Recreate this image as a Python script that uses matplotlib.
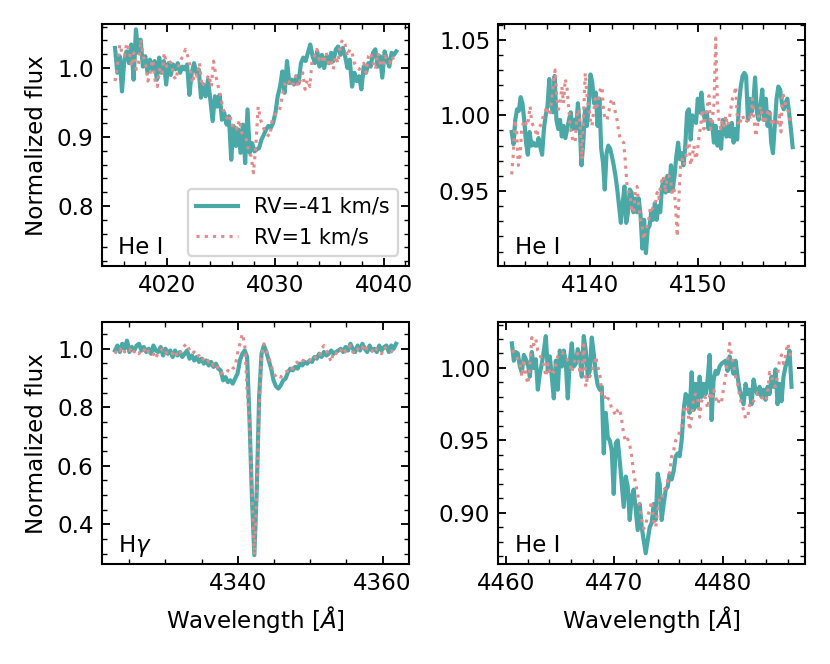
import numpy as np
import matplotlib
matplotlib.use("Agg")
import matplotlib.pyplot as plt
from matplotlib.ticker import MultipleLocator

# ---------------- data ----------------
# He I 4026 panel
hei4026_range_a = [4015.19, 4041.16]
hei4026_flux_a = [1.029, 0.993, 1.017, 0.966, 1.012, 1.024, 1.007, 1.034, 0.983, 1.056,
                  1.022, 1.041, 1.002, 1.017, 0.993, 1.012, 0.998, 1.010, 0.983, 1.015,
                  0.993, 1.010, 0.976, 1.007, 0.990, 1.005, 0.998, 1.007, 0.993, 1.002,
                  0.998, 1.005, 0.961, 0.993, 1.007, 0.993, 0.998, 0.957, 0.976, 0.959,
                  0.983, 0.954, 0.923, 0.959, 0.944, 0.961, 0.925, 0.935, 0.918, 0.930,
                  0.867, 0.916, 0.887, 0.911, 0.877, 0.918, 0.862, 0.940, 0.877, 0.891,
                  0.879, 0.882, 0.884, 0.896, 0.903, 0.911, 0.916, 0.913, 0.920, 0.935,
                  0.959, 0.973, 0.995, 0.964, 1.010, 0.978, 0.983, 0.976, 0.988, 0.978,
                  1.007, 1.015, 1.010, 1.022, 1.034, 1.017, 1.007, 1.024, 1.002, 1.019,
                  1.000, 1.017, 1.007, 1.022, 1.010, 1.027, 1.031, 1.019, 1.029, 1.017,
                  1.000, 1.012, 0.973, 0.993, 0.981, 0.988, 0.969, 1.002, 0.993, 1.007,
                  1.002, 1.022, 1.027, 1.002, 1.017, 0.986, 1.024, 1.012, 1.002, 1.022,
                  1.019, 1.024]
hei4026_range_b = [4015.19, 4040.98]
hei4026_flux_b = [0.981, 1.002, 1.034, 1.022, 1.017, 1.036, 1.027, 1.002, 1.022, 0.998,
                  1.007, 1.041, 1.017, 1.007, 0.981, 0.993, 1.012, 0.983, 0.973, 0.998,
                  0.990, 1.022, 1.002, 1.010, 1.007, 0.988, 0.983, 1.002, 1.012, 1.017,
                  1.027, 1.017, 1.002, 0.978, 0.993, 0.988, 1.007, 0.973, 0.978, 0.983,
                  0.990, 0.973, 1.010, 0.988, 0.973, 0.959, 0.940, 0.935, 0.925, 0.930,
                  0.916, 0.920, 0.911, 0.925, 0.906, 0.901, 0.896, 0.877, 0.872, 0.848,
                  0.887, 0.944, 0.925, 0.916, 0.906, 0.903, 0.901, 0.925, 0.932, 0.935,
                  0.937, 0.954, 0.973, 0.983, 0.981, 0.973, 0.978, 0.988, 0.973, 0.983,
                  0.993, 0.969, 0.983, 0.973, 1.012, 1.017, 1.027, 1.012, 1.017, 1.007,
                  1.022, 1.007, 1.012, 0.998, 1.017, 1.007, 1.034, 1.041, 1.034, 1.017,
                  1.027, 1.022, 1.007, 1.002, 0.998, 1.002, 1.007, 0.993, 1.017, 1.022,
                  1.007, 0.998, 1.022, 1.007, 1.002, 1.017, 1.012, 1.007, 1.017, 1.010]

# He I 4144 panel
hei4144_range_a = [4132.73, 4158.73]
hei4144_flux_a = [0.989, 0.981, 0.997, 1.004, 1.003, 1.012, 1.008, 0.997, 0.982, 0.974,
                  0.989, 0.980, 0.982, 0.980, 0.980, 0.985, 0.979, 0.974,
                  0.991, 1.000, 1.006, 1.024, 1.008, 1.002, 1.026, 0.997, 0.991, 0.997,
                  0.986, 0.993, 0.985, 0.991, 0.997, 1.002, 0.991, 0.997, 0.991, 1.008,
                  0.993, 0.967, 0.982, 1.004, 0.993, 1.006, 1.027, 1.022, 1.008, 1.015,
                  0.993, 1.011, 0.978, 0.969, 0.951, 0.975, 0.980, 0.978, 0.973, 0.967,
                  0.960, 0.951, 0.940, 0.929, 0.942, 0.953, 0.929, 0.936, 0.951, 0.949,
                  0.936, 0.945, 0.936, 0.945, 0.934, 0.912, 0.931, 0.909, 0.925, 0.927,
                  0.936, 0.931, 0.942, 0.931, 0.940, 0.936, 0.953, 0.958, 0.949, 0.960,
                  0.950, 0.967, 0.951, 0.960, 0.973, 0.982, 0.971, 0.975, 0.967, 0.980,
                  1.002, 1.004, 0.984, 1.000, 0.997, 0.995, 1.011, 1.002, 1.015, 1.002,
                  0.997, 1.002, 0.991, 0.997, 0.995, 0.982, 0.993, 0.980, 0.989, 0.978,
                  0.997, 0.991, 0.986, 0.993, 0.986, 0.995, 0.982, 0.991, 0.984, 1.008,
                  1.019, 1.026, 1.028, 1.026, 0.997, 1.011, 1.002, 1.008, 1.025, 1.002,
                  0.997, 1.006, 1.017, 0.997, 1.011, 0.993, 1.002, 0.982, 0.975, 0.993,
                  1.011, 1.019, 1.017, 1.008, 1.004, 1.008, 1.011, 1.002, 0.991, 0.979]
hei4144_range_b = [4132.73, 4158.57]
hei4144_flux_b = [0.961, 0.975, 0.997, 0.989, 0.967, 0.973, 0.991, 0.995, 0.997, 0.993,
                  0.997, 1.006, 0.995, 0.993, 0.991, 0.986, 0.991, 0.993, 0.995, 1.000,
                  1.002, 1.006, 1.000, 1.002, 1.011, 1.022, 1.030, 1.011, 1.004, 1.008,
                  1.019, 1.008, 1.024, 1.019, 1.006, 0.993, 0.986, 0.982, 0.983, 1.000,
                  1.004, 0.991, 0.971, 1.002, 1.028, 1.013, 1.006, 0.997, 0.993, 1.002,
                  1.011, 1.006, 1.011, 1.017, 1.019, 1.002, 0.997, 0.997, 1.002, 1.008,
                  1.011, 1.008, 1.002, 0.997, 0.989, 0.984, 0.983, 0.982, 0.969,
                  0.953, 0.949, 0.945, 0.936, 0.936, 0.951, 0.953, 0.940, 0.931, 0.927,
                  0.918, 0.923, 0.927, 0.931, 0.940, 0.938, 0.940, 0.942, 0.949, 0.945,
                  0.953, 0.958, 0.960, 0.949, 0.960, 0.960, 0.958, 0.947, 0.953, 0.940,
                  0.920,
                  0.945, 0.967, 0.971, 0.967, 0.971, 0.980, 0.982, 0.967, 0.973, 0.980,
                  0.971, 0.975, 0.986, 0.993, 1.004, 0.991, 1.000, 1.006, 1.013, 0.991,
                  0.997,
                  1.008, 1.051, 1.008,
                  0.997, 0.991, 0.997, 0.993, 1.000, 0.993, 0.997, 1.004, 1.011, 1.013,
                  1.019, 0.997, 0.993, 0.997, 1.000, 0.997, 0.995, 0.997, 1.000, 0.997,
                  1.011, 0.997, 0.986, 0.993, 1.002, 1.006, 0.997, 1.000, 0.997, 1.002,
                  1.004, 0.997, 0.993, 0.997, 0.997, 0.995, 1.000, 0.989, 1.015, 1.011,
                  1.006, 1.004, 1.000, 0.993]

# H gamma panel
hgamma_range_a = [4323.03, 4361.87]
hgamma_flux_a = [0.994, 1.011, 0.989, 1.017, 1.000, 1.028, 0.989, 1.006, 0.994, 1.011,
                 1.017, 0.994, 1.006, 0.989, 1.000, 0.983, 1.011, 0.994, 0.989, 1.006,
                 0.977, 1.000, 0.983, 0.994, 0.972, 0.994, 0.977, 0.989, 0.972, 0.983,
                 0.994, 0.966, 0.977, 0.960, 0.972, 0.955, 0.966, 0.949, 0.960, 0.943,
                 0.955, 0.938, 0.949, 0.932, 0.926, 0.892, 0.903, 0.886, 0.892, 0.881,
                 0.898, 0.915, 0.960, 0.983, 0.994, 0.972, 0.756, 0.494, 0.295, 0.517,
                 0.835, 0.983, 1.011, 0.989, 0.960, 0.932, 0.892, 0.872, 0.864, 0.875,
                 0.892, 0.898, 0.920, 0.932, 0.926, 0.938, 0.932, 0.949, 0.943, 0.955,
                 0.949, 0.960, 0.955, 0.972, 0.966, 0.983, 0.972, 0.989, 0.977, 0.983,
                 0.994, 0.983, 0.989, 0.994, 1.000, 0.989, 1.006, 0.994, 1.017, 1.000,
                 0.989, 1.011, 0.994, 1.017, 1.000, 0.989, 1.011, 0.994, 1.000, 0.989,
                 1.011, 0.994, 1.006, 1.011, 0.989, 1.011, 1.000, 1.017]
hgamma_range_b = [4323.03, 4361.87]
hgamma_flux_b = [0.983, 1.000, 0.994, 1.006, 0.989, 1.000, 0.994, 1.006, 0.989, 0.994,
                 0.983, 1.000, 0.994, 1.006, 0.989, 0.994, 0.983, 0.966, 0.989, 0.994,
                 1.000, 0.983, 0.994, 0.989, 0.983, 0.994, 0.972, 0.983, 1.000, 1.011,
                 1.017, 0.994, 0.983, 0.989, 0.972, 0.977, 0.960, 0.966, 0.972, 0.955,
                 0.960, 0.943, 0.949, 0.932, 0.915, 0.920, 0.915, 0.926, 0.920, 0.932,
                 0.938, 0.983, 1.017, 1.051, 1.017, 0.858, 0.756, 0.517, 0.295, 0.494,
                 0.790, 0.972, 1.017, 0.994, 0.972, 0.943, 0.920, 0.903, 0.909, 0.903,
                 0.915, 0.920, 0.926, 0.938, 0.932, 0.949, 0.955, 0.966, 0.960, 0.960,
                 0.966, 0.960, 0.972, 0.966, 0.977, 0.972, 1.000, 1.011, 0.994, 0.977,
                 0.955, 0.989, 0.983, 1.000, 0.994, 1.006, 0.989, 1.000, 1.011, 0.989,
                 0.983, 1.000, 0.994, 1.006, 0.989, 1.006, 1.000, 0.994, 0.983, 1.000,
                 0.994, 0.983, 1.006, 1.000, 0.994, 0.989, 1.000, 1.006]

# He I 4471 panel
hei4471_range_a = [4460.55, 4486.33]
hei4471_flux_a = [1.017, 1.005, 1.011, 1.010, 1.001, 0.997, 1.009, 1.006, 1.003, 0.994,
                  1.011, 1.000, 1.006, 0.985, 0.996, 1.003, 1.012, 1.022, 0.998, 1.008,
                  0.994, 0.979, 1.005, 0.985, 1.012, 1.001, 1.012, 1.003, 0.979, 1.005,
                  1.017, 1.001, 1.003, 1.013, 1.008, 0.994, 1.022, 1.012, 0.994, 0.998,
                  1.021, 1.010, 0.996, 0.988, 0.985, 0.987, 0.941, 0.969, 0.952, 0.950,
                  0.943, 0.913, 0.948, 0.950, 0.936, 0.920, 0.904, 0.925, 0.918, 0.895,
                  0.911, 0.916, 0.902, 0.888, 0.906, 0.890, 0.881, 0.872, 0.881, 0.890,
                  0.893, 0.906, 0.895, 0.927, 0.920, 0.895, 0.906, 0.916, 0.918, 0.927,
                  0.923, 0.929, 0.939, 0.941, 0.939, 0.950, 0.971, 0.982, 0.980, 0.969,
                  0.997, 0.971, 0.989, 0.973, 0.994, 0.980, 0.989, 0.982, 0.992, 1.009,
                  0.964, 0.992, 0.998, 0.996, 1.001, 1.003, 1.004, 1.005, 0.998, 1.008,
                  1.001, 0.996, 1.005, 0.994, 0.985, 0.980, 0.975, 0.989, 0.982, 0.985,
                  0.975, 0.992, 0.985, 0.982, 0.987, 0.980, 0.985, 0.978, 0.987, 0.982,
                  0.994, 0.987, 0.999, 0.975, 0.989, 0.977, 0.994, 1.001, 1.005, 1.012,
                  0.987]
hei4471_range_b = [4460.55, 4486.33]
hei4471_flux_b = [1.012, 1.011, 1.008, 1.006, 1.004, 0.994, 1.006, 0.995, 0.989, 1.002,
                  1.021, 1.016, 1.020, 1.012, 1.010, 1.005, 1.002, 0.994, 1.003, 0.996,
                  0.998, 0.997, 1.002, 1.008, 1.010, 1.011, 1.009, 1.008, 1.005, 1.003,
                  0.997, 1.003, 1.008, 1.010, 0.998, 0.996, 1.016, 0.987, 0.995, 0.994,
                  0.997, 1.002, 1.008, 1.001, 0.996, 0.982, 0.983, 0.977, 0.979, 0.978,
                  0.971, 0.970, 0.967, 0.971, 0.972, 0.964, 0.954, 0.949, 0.951, 0.947,
                  0.939, 0.927, 0.920, 0.913, 0.904, 0.895, 0.889, 0.892, 0.898, 0.902,
                  0.908, 0.894, 0.890, 0.902, 0.910, 0.909, 0.916, 0.917, 0.922, 0.928,
                  0.939, 0.943, 0.950, 0.952, 0.956, 0.958, 0.971, 0.974, 0.972, 0.957,
                  0.966, 0.980, 0.982, 0.981, 0.966, 0.977, 0.981, 0.979, 0.972, 0.981,
                  0.978, 0.985, 0.980, 0.975, 0.979, 0.977, 0.986, 0.994, 1.005, 1.017,
                  1.008, 1.002, 0.994, 0.989, 0.981, 0.975, 0.971, 0.965, 0.966, 0.974,
                  0.978, 0.977, 0.980, 0.983, 0.982, 0.980, 0.978, 0.977, 0.982, 0.997,
                  0.994, 0.989, 0.987, 0.995, 1.006, 1.009, 1.003, 1.008, 1.017, 1.012,
                  1.005]

series_labels = ["RV=-41 km/s", "RV=1 km/s"]
line_labels = ["He I", "He I", r"H$\gamma$", "He I"]
x_limits = [(4013.96, 4042.31), (4131.49, 4159.9), (4321.19, 4363.62), (4459.3, 4487.6)]
y_limits = [(0.713, 1.063), (0.9005, 1.060), (0.2646, 1.0897), (0.8646, 1.0314)]
x_major = [10, 10, 20, 10]
x_minor = [2, 2, 5, 2]
y_major = [0.1, 0.05, 0.2, 0.05]
y_minor = [0.02, 0.01, 0.05, 0.01]

panels = [
    (hei4026_range_a, hei4026_flux_a, hei4026_range_b, hei4026_flux_b),
    (hei4144_range_a, hei4144_flux_a, hei4144_range_b, hei4144_flux_b),
    (hgamma_range_a, hgamma_flux_a, hgamma_range_b, hgamma_flux_b),
    (hei4471_range_a, hei4471_flux_a, hei4471_range_b, hei4471_flux_b),
]

# ---------------- plot ----------------
teal = "#4aa8a7"
pink = "#e38a8a"

fig = plt.figure(figsize=(5, 4), dpi=166)
W, H = 830.0, 664.0
aw, ah = 307.0 / W, 241.5 / H
rects = [
    [101.7 / W, 1 - 266.0 / H, aw, ah],
    [498.3 / W, 1 - 266.0 / H, aw, ah],
    [101.7 / W, 1 - 564.0 / H, aw, ah],
    [498.3 / W, 1 - 564.0 / H, aw, ah],
]

for i, (ra, fa, rb, fb) in enumerate(panels):
    ax = fig.add_axes(rects[i])
    wa = np.linspace(ra[0], ra[1], len(fa))
    wb = np.linspace(rb[0], rb[1], len(fb))
    ax.plot(wa, fa, color=teal, lw=1.8, ls="-", label=series_labels[0], zorder=2)
    ax.plot(wb, fb, color=pink, lw=1.35, ls=":", label=series_labels[1], zorder=3)
    ax.set_xlim(*x_limits[i])
    ax.set_ylim(*y_limits[i])
    ax.xaxis.set_major_locator(MultipleLocator(x_major[i]))
    ax.xaxis.set_minor_locator(MultipleLocator(x_minor[i]))
    ax.yaxis.set_major_locator(MultipleLocator(y_major[i]))
    ax.yaxis.set_minor_locator(MultipleLocator(y_minor[i]))
    ax.tick_params(which="both", direction="in", top=True, right=True, labelsize=10)
    for sp in ax.spines.values():
        sp.set_linewidth(0.9)
    ax.text(0.053, 0.048, line_labels[i], transform=ax.transAxes,
            fontsize=10, ha="left", va="baseline")
    if i in (0, 2):
        ax.set_ylabel("Normalized flux", fontsize=10)
    if i in (2, 3):
        ax.set_xlabel(r"Wavelength [$\AA$]", fontsize=10)
    if i == 0:
        ax.legend(loc="lower right", fontsize=9)

fig.savefig("out.png", dpi=166)
